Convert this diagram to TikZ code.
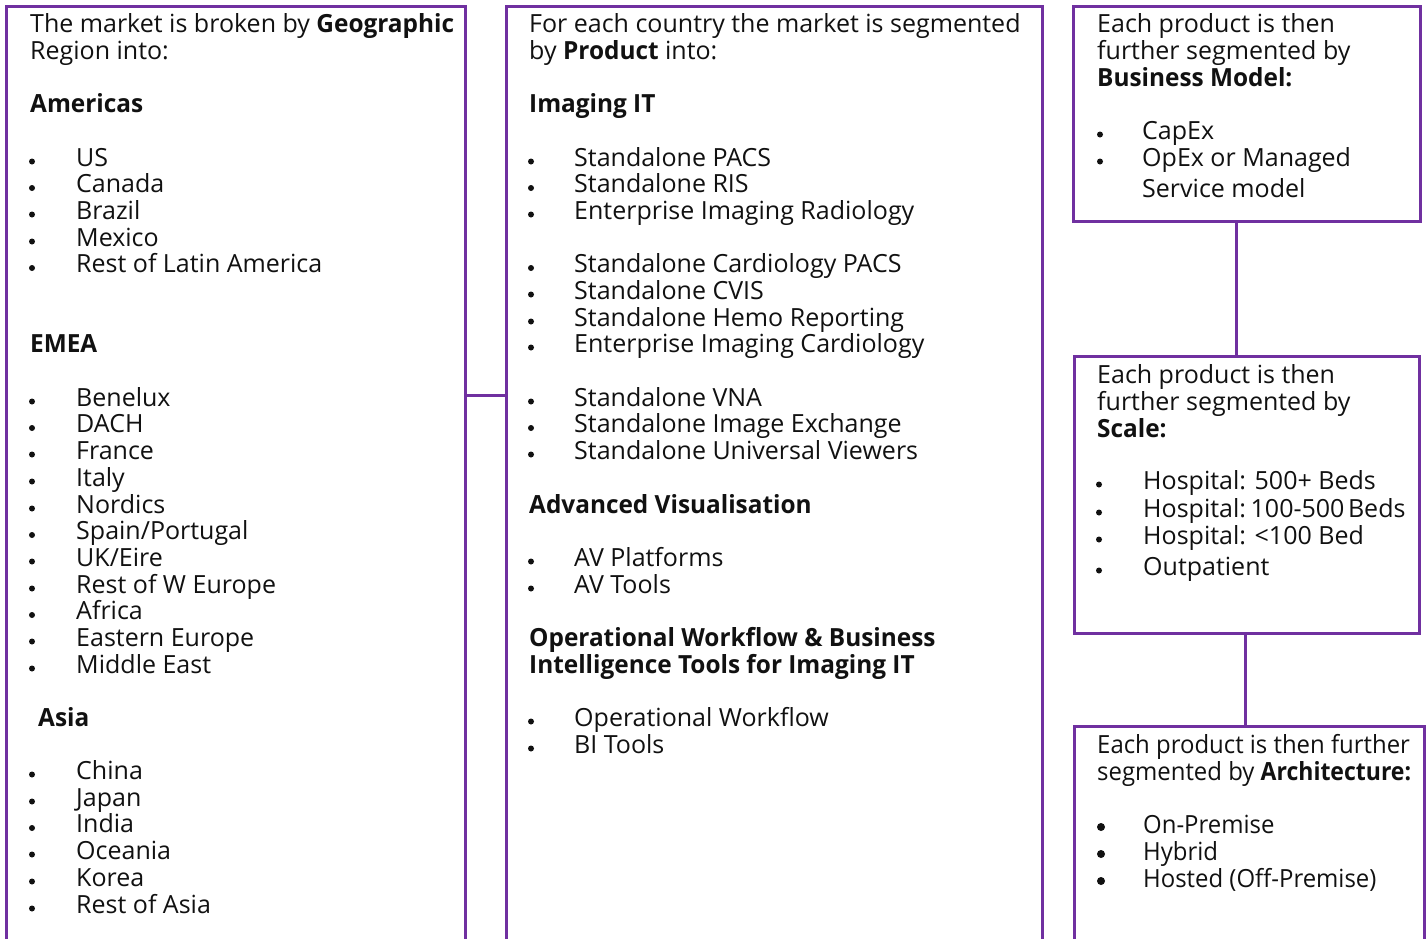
\documentclass[tikz,border=0pt]{standalone}
\usepackage{fontspec}
\setmainfont{Open Sans}[BoldFeatures={FakeStretch=0.975}]
\newfontfamily\tightfont{Open Sans}[FakeStretch=0.957, BoldFeatures={FakeStretch=0.92}]
\definecolor{frame}{HTML}{7030A0}
\definecolor{ink}{HTML}{111111}
\tikzset{
  panel/.style={draw=frame, line width=3pt, rectangle, anchor=north west, inner sep=0pt, fill=none},
  link/.style={draw=frame, line width=3pt},
  txt/.style={anchor=base west, inner sep=0pt, text=ink, font=\fontsize{25}{27}\selectfont},
  tight/.style={font=\fontsize{25}{27}\tightfont},
  dot/.style={circle, fill=ink, inner sep=0pt, minimum size=6pt},
  bigdot/.style={circle, fill=ink, inner sep=0pt, minimum size=8pt},
}
% #1 name, #2 bullet x, #3 text x, #4 baseline y, #5 text
\newcommand\bitem[5]{%
  \node[dot] (#1-b) at (#2,#4-4.5) {};
  \node[txt] (#1) at (#3,#4) {#5};}
\newcommand\bigitem[5]{%
  \node[bigdot] (#1-b) at (#2,#4-6) {};
  \node[txt, tight] (#1) at (#3,#4) {#5};}
\newcommand\tline[4]{\node[txt] (#1) at (#2,#3) {#4};}
\begin{document}
\begin{tikzpicture}[x=1pt,y=-1pt]
\useasboundingbox[fill=white] (0,0) rectangle (1427,938);

% panels
\node[panel, minimum width=459pt, minimum height=1000pt] (geo) at (5,5) {};
\node[panel, minimum width=536pt, minimum height=1000pt] (prod) at (505,5) {};
\node[panel, minimum width=347pt, minimum height=215pt] (bm) at (1072,5) {};
\node[panel, minimum width=345pt, minimum height=277pt] (scale) at (1073,355) {};
\node[panel, minimum width=350pt, minimum height=400pt] (arch) at (1073,725) {};

% connectors
\draw[link] ([yshift=-390pt]geo.north east) -- ([yshift=-390pt]prod.north west);
\draw[link] ([xshift=-10.5pt]bm.south) -- ([xshift=-10.5pt]bm.south |- scale.north);
\draw[link] ([xshift=-1.5pt]scale.south) -- ([xshift=-1.5pt]scale.south |- arch.north);

% geographic regions
\tline{g0}{30}{32}{The market is broken by \textbf{Geographic}}
\tline{g1}{30}{59}{Region into:}
\tline{gam}{30}{112}{\textbf{Americas}}
\bitem{g2}{32}{76}{166}{US}
\bitem{g3}{32}{76}{192.5}{Canada}
\bitem{g4}{32}{76}{219}{Brazil}
\bitem{g5}{32}{76}{246}{Mexico}
\bitem{g6}{32}{76}{272.5}{Rest of Latin America}
\tline{gem}{30}{352}{\textbf{EMEA}}
\bitem{g7}{32}{76}{406}{Benelux}
\bitem{g8}{32}{76}{432.5}{DACH}
\bitem{g9}{32}{76}{459}{France}
\bitem{g10}{32}{76}{486}{Italy}
\bitem{g11}{32}{76}{513}{Nordics}
\bitem{g12}{32}{76}{539.5}{Spain/Portugal}
\bitem{g13}{32}{76}{566}{UK/Eire}
\bitem{g14}{32}{76}{593}{Rest of W Europe}
\bitem{g15}{32}{76}{619.5}{Africa}
\bitem{g16}{32}{76}{646}{Eastern Europe}
\bitem{g17}{32}{76}{673}{Middle East}
\tline{gas}{38}{726}{\textbf{Asia}}
\bitem{g18}{32}{76}{779}{China}
\bitem{g19}{32}{76}{806}{Japan}
\bitem{g20}{32}{76}{832.5}{India}
\bitem{g21}{32}{76}{859}{Oceania}
\bitem{g22}{32}{76}{886}{Korea}
\bitem{g23}{32}{76}{913}{Rest of Asia}

% products
\tline{p0}{529}{32}{For each country the market is segmented}
\tline{p1}{529}{59}{by \textbf{Product} into:}
\tline{pit}{529}{112}{\textbf{Imaging IT}}
\bitem{p2}{531}{574}{166}{Standalone PACS}
\bitem{p3}{531}{574}{192.5}{Standalone RIS}
\bitem{p4}{531}{574}{219}{Enterprise Imaging Radiology}
\bitem{p5}{531}{574}{272.5}{Standalone Cardiology PACS}
\bitem{p6}{531}{574}{299}{Standalone CVIS}
\bitem{p7}{531}{574}{326}{Standalone Hemo Reporting}
\bitem{p8}{531}{574}{352}{Enterprise Imaging Cardiology}
\bitem{p9}{531}{574}{406}{Standalone VNA}
\bitem{p10}{531}{574}{432.5}{Standalone Image Exchange}
\bitem{p11}{531}{574}{459}{Standalone Universal Viewers}
\tline{pav}{529}{513}{\textbf{Advanced Visualisation}}
\bitem{p12}{531}{574}{566}{AV Platforms}
\bitem{p13}{531}{574}{593}{AV Tools}
\tline{pow}{529}{646}{\textbf{Operational Workflow \& Business}}
\tline{pow2}{529}{673}{\textbf{Intelligence Tools for Imaging IT}}
\bitem{p14}{531}{574}{726}{Operational Workflow}
\bitem{p15}{531}{574}{753}{BI Tools}

% business model
\tline{b0}{1097}{32}{Each product is then}
\tline{b1}{1097}{59}{further segmented by}
\tline{b2}{1097}{86}{\textbf{Business Model:}}
\bitem{b3}{1100}{1142}{139}{CapEx}
\bitem{b4}{1100}{1142}{166}{OpEx or Managed}
\tline{b5}{1142}{197}{Service model}

% scale
\tline{s0}{1097}{383}{Each product is then}
\tline{s1}{1097}{410}{further segmented by}
\tline{s2}{1097}{437}{\textbf{Scale:}}
\bitem{s3}{1099}{1143}{489}{Hospital: 500+ Beds}
\bitem{s4}{1099}{1143}{517}{Hospital:\hspace{-4pt} 100-500\hspace{-3pt} Beds}
\bitem{s5}{1099}{1143}{544}{Hospital: <100 Bed}
\bitem{s6}{1099}{1143}{575}{Outpatient}

% architecture
\node[txt, tight] (a0) at (1097,753) {Each product is then further};
\node[txt, tight] (a1) at (1097,780) {segmented by \textbf{Architecture:}};
\bigitem{a2}{1101}{1143}{833}{On-Premise}
\bigitem{a3}{1101}{1143}{860}{Hybrid}
\bigitem{a4}{1101}{1143}{887}{Hosted (Off-Premise)}
\end{tikzpicture}
\end{document}
